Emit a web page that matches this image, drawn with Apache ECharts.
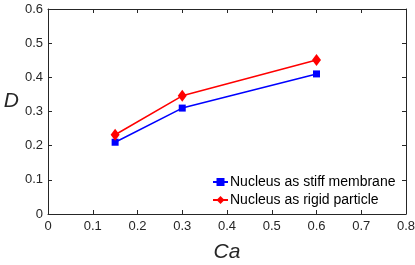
<!DOCTYPE html>
<html><head><meta charset="utf-8">
<script src="https://cdn.jsdelivr.net/npm/echarts@6/dist/echarts.min.js"></script>
<style>html,body{margin:0;padding:0;background:#fff}#c{width:415px;height:265px}</style>
</head><body><div id="c"></div>
<script>
const caValues = [0.15, 0.3, 0.6];
const stiffMembrane = [0.21, 0.31, 0.41];
const rigidParticle = [0.232, 0.346, 0.451];
const seriesNames = ['Nucleus as stiff membrane', 'Nucleus as rigid particle'];
const xTicks = [0, 0.1, 0.2, 0.3, 0.4, 0.5, 0.6, 0.7, 0.8];
const yTicks = [0, 0.1, 0.2, 0.3, 0.4, 0.5, 0.6];

const axisColor = '#262626';
const font = 'Liberation Sans, Arial, Helvetica, sans-serif';
const chart = echarts.init(document.getElementById('c'), null, {renderer: 'canvas'});
const baseAxis = {
  axisLine: {show: true, onZero: false, lineStyle: {color: axisColor, width: 1}},
  axisTick: {show: true, inside: true, length: 4, lineStyle: {color: axisColor, width: 1}},
  splitLine: {show: false},
};
chart.setOption({
  animation: false,
  backgroundColor: '#fff',
  grid: {left: 48, right: 9, top: 9, bottom: 51, containLabel: false, outerBoundsMode: 'none'},
  xAxis: [
    Object.assign({}, baseAxis, {
      type: 'value', min: 0, max: 0.8, interval: 0.1, position: 'bottom',
      axisLabel: {color: axisColor, fontFamily: font, fontSize: 13, margin: 6,
        formatter: v => String(Math.round(v * 10) / 10)},
      name: 'Ca', nameLocation: 'middle', nameGap: 28,
      nameTextStyle: {fontFamily: font, fontStyle: 'italic', fontSize: 21, color: axisColor}
    }),
    Object.assign({}, baseAxis, {
      type: 'value', min: 0, max: 0.8, interval: 0.1, position: 'top',
      axisLabel: {show: false}
    })
  ],
  yAxis: [
    Object.assign({}, baseAxis, {
      type: 'value', min: 0, max: 0.6, interval: 0.1, position: 'left',
      axisLabel: {color: axisColor, fontFamily: font, fontSize: 13, margin: 5,
        formatter: v => String(Math.round(v * 10) / 10)},
      name: 'D', nameLocation: 'middle', nameGap: 28, nameRotate: 0,
      nameTextStyle: {fontFamily: font, fontStyle: 'italic', fontSize: 21, color: axisColor, verticalAlign: 'bottom'}
    }),
    Object.assign({}, baseAxis, {
      type: 'value', min: 0, max: 0.6, interval: 0.1, position: 'right',
      axisLabel: {show: false}
    })
  ],
  legend: {
    orient: 'vertical', left: 212, top: 175, itemWidth: 15, itemHeight: 10, itemGap: 4,
    padding: [0, 0, 0, 0],
    backgroundColor: '#fff',
    textStyle: {fontFamily: font, fontSize: 14, color: '#000', padding: [0, 0, 0, -3]},
    data: seriesNames
  },
  series: [
    {
      name: seriesNames[0], type: 'line', xAxisIndex: 0, yAxisIndex: 0,
      data: caValues.map((x, i) => [x, stiffMembrane[i]]),
      symbol: 'rect', symbolSize: 7,
      lineStyle: {color: '#0000ff', width: 1.5},
      itemStyle: {color: '#0000ff'}
    },
    {
      name: seriesNames[1], type: 'line', xAxisIndex: 0, yAxisIndex: 0,
      data: caValues.map((x, i) => [x, rigidParticle[i]]),
      symbol: 'diamond', symbolSize: [9, 12],
      lineStyle: {color: '#ff0000', width: 1.5},
      itemStyle: {color: '#ff0000'}
    }
  ]
});
</script></body></html>
